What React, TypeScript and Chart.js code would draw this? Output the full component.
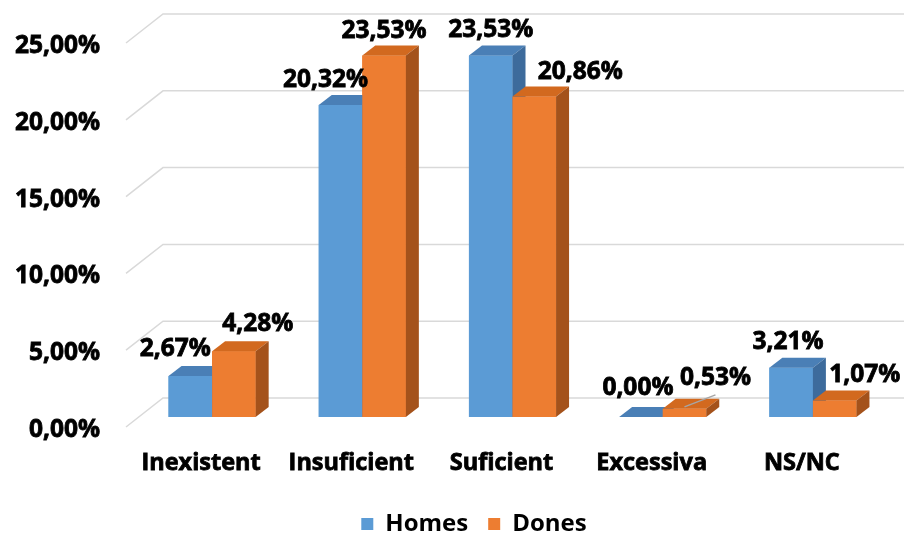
import React, { useEffect, useRef } from 'react';
import { Chart, registerables } from 'chart.js';

Chart.register(...registerables);

// ---- data ----
const categories = ['Inexistent', 'Insuficient', 'Suficient', 'Excessiva', 'NS/NC'];
const seriesNames = ['Homes', 'Dones'];
const homes = [2.67, 20.32, 23.53, 0.0, 3.21];
const dones = [4.28, 23.53, 20.86, 0.53, 1.07];
const yTicks = [0, 5, 10, 15, 20, 25];

// ---- styles ----
const FRONT = ['#5B9BD5', '#ED7D31'];
const TOP = ['#4A7FB6', '#D2691F'];
const SIDE = ['#3D6B9C', '#A4521B'];
const GRID = '#D9D9D9';
const FONT_FAMILY = "'Open Sans', 'DejaVu Sans', sans-serif";
const NUM_SIZE = 24.5;
const CAT_SIZE = 23.5;
const LEGEND_SIZE = 24;
const STROKE_W = 0.8;
// label offsets relative to bar centre / top (manual placement as in the original)
const labelShift = [
  [[-15, -27], [-15, -25], [0, -26], [-3, -29], [-3, -26]],
  [[24, -27], [0, -25], [46, -25], [31, -31], [30, -26]],
];
const leaderLine = [
  [false, false, false, false, false],
  [false, false, false, true, false],
];
const DEPTH_X = 13;
const DEPTH_Y = -10;
const LEGEND_SHIFT = 30;

const fmt = (v: number) => v.toFixed(2).replace('.', ',') + '%';

const bar3d = {
  id: 'bar3d',
  afterLayout(chart: any) {
    const lg = chart.legend;
    if (lg) {
      lg.left += LEGEND_SHIFT;
      lg.right += LEGEND_SHIFT;
    }
  },
  beforeDatasetsDraw(chart: any) {
    const { ctx, chartArea } = chart;
    const y = chart.scales.y;
    ctx.save();
    ctx.strokeStyle = GRID;
    ctx.lineWidth = 1.5;
    for (const v of yTicks) {
      const py = y.getPixelForValue(v);
      ctx.beginPath();
      ctx.moveTo(chartArea.left - 11, py + 10);
      ctx.lineTo(chartArea.left + 26, py - 19);
      ctx.lineTo(chart.width, py - 19);
      ctx.stroke();
    }
    ctx.restore();
  },
  afterDatasetsDraw(chart: any) {
    const { ctx } = chart;
    const metas = [chart.getDatasetMeta(0), chart.getDatasetMeta(1)];
    ctx.save();
    for (let j = 0; j < categories.length; j++) {
      for (let i = 0; i < metas.length; i++) {
        const el = metas[i].data[j];
        const { x, y, base, width } = el.getProps(['x', 'y', 'base', 'width'], true);
        const l = x - width / 2;
        const r = x + width / 2;
        ctx.fillStyle = FRONT[i];
        ctx.fillRect(l, y, width, base - y);
        ctx.fillStyle = TOP[i];
        ctx.beginPath();
        ctx.moveTo(l, y);
        ctx.lineTo(r, y);
        ctx.lineTo(r + DEPTH_X, y + DEPTH_Y);
        ctx.lineTo(l + DEPTH_X, y + DEPTH_Y);
        ctx.closePath();
        ctx.fill();
        ctx.fillStyle = SIDE[i];
        ctx.beginPath();
        ctx.moveTo(r, y);
        ctx.lineTo(r, base);
        ctx.lineTo(r + DEPTH_X, base + DEPTH_Y);
        ctx.lineTo(r + DEPTH_X, y + DEPTH_Y);
        ctx.closePath();
        ctx.fill();
      }
    }
    ctx.font = `bold ${NUM_SIZE}px ${FONT_FAMILY}`;
    ctx.textAlign = 'center';
    ctx.textBaseline = 'middle';
    const values = [homes, dones];
    for (let i = 0; i < metas.length; i++) {
      for (let j = 0; j < categories.length; j++) {
        const el = metas[i].data[j];
        const { x, y } = el.getProps(['x', 'y'], true);
        const lx = x + labelShift[i][j][0];
        const ly = y + labelShift[i][j][1];
        if (leaderLine[i][j]) {
          ctx.strokeStyle = '#A6A6A6';
          ctx.lineWidth = 1.5;
          ctx.beginPath();
          ctx.moveTo(x, y - 2);
          ctx.lineTo(lx, ly + 17);
          ctx.stroke();
        }
        const txt = fmt(values[i][j]);
        ctx.fillStyle = '#000';
        ctx.strokeStyle = '#000';
        ctx.lineWidth = STROKE_W;
        ctx.strokeText(txt, lx, ly);
        ctx.fillText(txt, lx, ly);
      }
    }
    ctx.restore();
  },
};

export default function App() {
  const ref = useRef<HTMLCanvasElement>(null);
  useEffect(() => {
    if (!ref.current) return;
    const numFont = { family: FONT_FAMILY, size: NUM_SIZE, weight: 'bold' as const };
    const catFont = { family: FONT_FAMILY, size: CAT_SIZE, weight: 'bold' as const };
    const legFont = { family: FONT_FAMILY, size: LEGEND_SIZE, weight: 'bold' as const };
    const chart = new Chart(ref.current, {
      type: 'bar',
      data: {
        labels: categories,
        datasets: [
          { label: seriesNames[0], data: homes, backgroundColor: FRONT[0], borderWidth: 0 },
          { label: seriesNames[1], data: dones, backgroundColor: FRONT[1], borderWidth: 0 },
        ],
      },
      options: {
        responsive: false,
        animation: false,
        datasets: { bar: { categoryPercentage: 0.58, barPercentage: 1 } },
        layout: { padding: { left: 0, right: 16, top: 33, bottom: -10 } },
        plugins: {
          legend: {
            position: 'bottom',
            labels: { boxWidth: 12, boxHeight: 12, padding: 20, color: '#000', font: legFont },
          },
          tooltip: { enabled: false },
        },
        scales: {
          x: {
            grid: { display: false, drawTicks: false },
            border: { display: false },
            ticks: {
              padding: 32, labelOffset: -11, color: '#000', font: catFont, maxRotation: 0, autoSkip: false,
              textStrokeColor: '#000', textStrokeWidth: STROKE_W,
            },
            afterFit: (s: any) => { s.height = 75; s.paddingLeft = 0; s.paddingRight = 0; },
          },
          y: {
            min: 0,
            max: 25,
            grid: { display: false, drawTicks: false },
            border: { display: false },
            ticks: {
              padding: 37, labelOffset: 13, color: '#000', font: numFont, callback: (v: any) => fmt(Number(v)),
              textStrokeColor: '#000', textStrokeWidth: STROKE_W,
            },
            afterBuildTicks: (s: any) => { s.ticks = yTicks.map((v) => ({ value: v })); },
            afterFit: (s: any) => { s.width = 137; s.paddingTop = 0; s.paddingBottom = 0; },
          },
        },
      },
      plugins: [bar3d],
    });
    return () => chart.destroy();
  }, []);
  return (
    <div style={{ position: 'absolute', left: 0, top: 0, width: 904, height: 536, background: '#fff' }}>
      <canvas ref={ref} width={904} height={536} style={{ display: 'block' }} />
    </div>
  );
}
